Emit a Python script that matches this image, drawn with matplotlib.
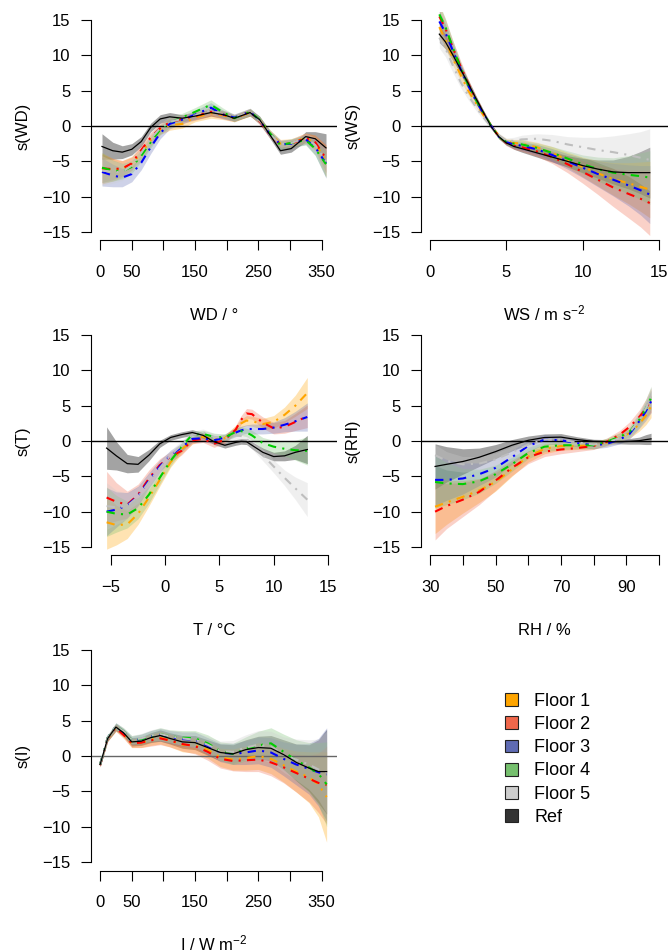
import matplotlib
matplotlib.use('Agg')
import matplotlib.pyplot as plt
from matplotlib.patches import Patch
import numpy as np

plt.rcParams['font.family'] = ['Liberation Sans', 'DejaVu Sans']
plt.rcParams['mathtext.fontset'] = 'custom'
plt.rcParams['mathtext.rm'] = 'Liberation Sans'
plt.rcParams['mathtext.it'] = 'Liberation Sans:italic'

# series order: Floor 1..5, Ref
series_names = ['Floor 1', 'Floor 2', 'Floor 3', 'Floor 4', 'Floor 5', 'Ref']
fill_colors = ['#FFA500', '#F0674B', '#5F6BB3', '#76C06E', '#CDCDCD', '#333333']
line_colors = ['#FFA500', '#FF0000', '#0000FF', '#00CD00', '#BEBEBE', '#000000']

# wind direction
wd_x = [3, 20, 35, 50, 65, 80, 95, 110, 130, 150, 175, 195, 212, 237, 252, 268, 285, 302, 325, 340, 357]
wd_fit = [
    [-6.0, -6.2, -6.1, -5.3, -3.9, -2.0, -0.5, 0.1, 0.3, 1.2, 1.8, 1.5, 1.1, 1.9, 0.8, -1.0, -2.5, -2.4, -1.7, -2.4, -5.0],
    [-6.0, -6.1, -6.0, -5.3, -3.4, -1.6, -0.3, 0.5, 1.0, 1.4, 2.0, 1.6, 1.1, 2.0, 0.7, -1.2, -2.6, -2.5, -1.7, -2.3, -4.6],
    [-6.5, -7.0, -7.3, -6.8, -5.2, -3.0, -1.0, 0.3, 0.9, 1.6, 2.6, 1.6, 1.2, 2.0, 0.8, -1.1, -2.6, -2.5, -1.9, -3.0, -5.3],
    [-5.9, -6.3, -6.4, -5.8, -4.2, -2.3, -0.5, 0.5, 1.2, 2.0, 3.0, 1.9, 1.1, 2.0, 0.9, -1.0, -2.7, -2.4, -2.0, -3.2, -5.4],
    [-6.3, -6.5, -6.5, -5.6, -3.8, -1.8, -0.3, 0.6, 1.0, 1.5, 2.2, 1.6, 1.2, 2.0, 0.8, -1.1, -2.6, -2.4, -1.7, -2.7, -5.0],
    [-2.9, -3.5, -3.7, -3.3, -2.2, -0.2, 1.0, 1.3, 1.1, 1.4, 1.9, 1.6, 1.1, 1.9, 0.9, -1.2, -3.5, -3.2, -1.5, -1.8, -3.1],
]
wd_se = [
    [2.2, 1.6, 1.2, 1.0, 0.9, 0.8, 0.7, 0.7, 0.6, 0.6, 0.7, 0.6, 0.5, 0.5, 0.5, 0.5, 0.6, 0.6, 0.7, 1.1, 2.2],
    [2.0, 1.5, 1.1, 0.9, 0.8, 0.7, 0.7, 0.6, 0.6, 0.6, 0.6, 0.6, 0.5, 0.5, 0.5, 0.5, 0.5, 0.6, 0.7, 1.0, 2.0],
    [2.0, 1.6, 1.3, 1.1, 1.0, 0.9, 0.8, 0.7, 0.6, 0.6, 0.7, 0.6, 0.5, 0.5, 0.5, 0.5, 0.6, 0.6, 0.7, 1.1, 2.1],
    [2.1, 1.5, 1.1, 0.9, 0.8, 0.8, 0.7, 0.7, 0.6, 0.6, 0.7, 0.6, 0.5, 0.5, 0.5, 0.5, 0.6, 0.6, 0.7, 1.0, 1.9],
    [2.1, 1.6, 1.2, 1.0, 0.9, 0.8, 0.7, 0.7, 0.6, 0.6, 0.6, 0.6, 0.5, 0.5, 0.5, 0.5, 0.6, 0.6, 0.7, 1.1, 2.0],
    [1.8, 1.2, 0.9, 0.8, 0.7, 0.6, 0.6, 0.6, 0.5, 0.5, 0.5, 0.5, 0.4, 0.5, 0.5, 0.5, 0.5, 0.5, 0.7, 1.0, 2.0],
]

# wind speed
ws_x = [0.6, 1.0, 1.5, 2.0, 2.5, 3.0, 3.5, 4.0, 4.5, 5.0, 5.5, 6.0, 7.0, 8.0, 9.0, 10.0, 11.0, 12.0, 13.0, 13.8, 14.4]
ws_fit = [
    [14.0, 12.2, 9.5, 7.2, 5.0, 3.2, 1.5, 0.0, -1.4, -2.2, -2.4, -2.5, -3.0, -3.8, -4.8, -5.8, -6.7, -7.5, -8.1, -8.6, -9.0],
    [15.5, 13.8, 11.0, 8.4, 6.0, 3.8, 1.8, 0.0, -1.5, -2.4, -2.8, -3.0, -3.6, -4.4, -5.4, -6.5, -7.6, -8.7, -9.6, -10.3, -10.9],
    [14.8, 13.2, 10.6, 8.0, 5.7, 3.6, 1.7, 0.0, -1.5, -2.3, -2.6, -2.8, -3.3, -4.1, -5.0, -5.9, -6.8, -7.6, -8.4, -9.1, -9.7],
    [15.8, 14.0, 11.0, 8.2, 5.8, 3.7, 1.8, 0.0, -1.5, -2.3, -2.5, -2.6, -3.1, -3.8, -4.6, -5.4, -6.1, -6.6, -6.9, -7.1, -7.3],
    [12.5, 11.0, 8.5, 6.2, 4.3, 2.7, 1.2, -0.1, -1.3, -2.1, -2.1, -1.9, -1.8, -2.1, -2.6, -3.0, -3.4, -3.7, -4.1, -4.5, -4.8],
    [13.0, 11.9, 10.0, 8.0, 6.0, 3.9, 1.9, -0.1, -1.5, -2.4, -2.9, -3.2, -3.8, -4.4, -5.0, -5.6, -6.1, -6.5, -6.6, -6.6, -6.6],
]
ws_se = [
    [1.6, 1.3, 1.0, 0.8, 0.6, 0.5, 0.4, 0.3, 0.3, 0.4, 0.5, 0.6, 0.7, 0.9, 1.1, 1.4, 1.8, 2.3, 2.9, 3.5, 4.0],
    [1.6, 1.3, 1.0, 0.8, 0.6, 0.5, 0.4, 0.3, 0.3, 0.4, 0.5, 0.6, 0.7, 0.9, 1.2, 1.6, 2.1, 2.7, 3.4, 4.0, 4.6],
    [1.5, 1.2, 1.0, 0.8, 0.6, 0.5, 0.4, 0.3, 0.3, 0.4, 0.5, 0.6, 0.7, 0.9, 1.1, 1.4, 1.8, 2.3, 2.9, 3.5, 4.1],
    [1.5, 1.2, 1.0, 0.8, 0.6, 0.5, 0.4, 0.3, 0.3, 0.4, 0.5, 0.6, 0.7, 0.9, 1.1, 1.3, 1.7, 2.1, 2.7, 3.3, 3.8],
    [1.5, 1.2, 1.0, 0.8, 0.6, 0.5, 0.4, 0.3, 0.3, 0.4, 0.5, 0.6, 0.7, 0.9, 1.1, 1.4, 1.8, 2.3, 3.0, 3.7, 4.4],
    [1.2, 1.0, 0.8, 0.6, 0.5, 0.4, 0.3, 0.3, 0.3, 0.3, 0.4, 0.5, 0.6, 0.7, 0.8, 1.0, 1.3, 1.7, 2.3, 3.0, 3.6],
]

# temperature
t_x = [-5.4, -4.5, -3.5, -2.5, -1.5, -0.5, 0.5, 1.5, 2.5, 3.5, 4.5, 5.5, 6.5, 7.0, 7.5, 8.0, 9.0, 10.0, 11.0, 12.0, 13.1]
t_fit = [
    [-11.5, -11.9, -11.8, -10.3, -8.0, -5.5, -3.0, -1.2, 0.1, 0.6, 0.2, 0.4, 1.6, 2.5, 2.9, 2.8, 2.4, 2.7, 3.7, 5.0, 6.8],
    [-8.0, -8.6, -9.0, -7.6, -5.3, -3.4, -2.2, -1.4, 0.1, 0.3, -0.4, 0.2, 1.6, 3.0, 3.9, 3.8, 2.6, 1.8, 2.0, 2.7, 3.5],
    [-10.0, -9.7, -9.1, -7.8, -5.6, -3.6, -2.0, -0.9, 0.3, 0.4, 0.1, 0.5, 1.2, 1.5, 1.7, 1.7, 1.7, 1.9, 2.3, 2.8, 3.4],
    [-10.0, -10.3, -10.4, -9.5, -7.6, -5.2, -2.8, -0.8, 0.9, 1.0, 0.6, 0.5, 1.3, 1.4, 1.2, 0.8, -0.3, -0.8, -1.1, -1.3, -1.4],
    [-9.2, -9.4, -9.2, -7.9, -5.8, -3.8, -2.0, -0.6, 0.9, 1.2, 0.6, 0.4, 0.8, 0.7, 0.3, -0.4, -2.0, -3.6, -5.2, -6.7, -8.3],
    [-1.0, -2.1, -3.2, -3.3, -2.0, -0.4, 0.5, 0.9, 1.2, 0.8, -0.1, -0.6, -0.2, -0.05, -0.1, -0.6, -1.6, -2.2, -2.1, -1.6, -1.2],
]
t_se = [
    [3.8, 2.8, 2.0, 1.5, 1.2, 0.9, 0.7, 0.6, 0.5, 0.5, 0.5, 0.5, 0.6, 0.6, 0.7, 0.7, 0.8, 0.9, 1.1, 1.5, 2.2],
    [3.7, 2.7, 1.9, 1.5, 1.2, 0.9, 0.7, 0.6, 0.5, 0.5, 0.5, 0.5, 0.6, 0.6, 0.7, 0.7, 0.8, 0.8, 0.9, 1.2, 1.6],
    [3.4, 2.5, 1.8, 1.4, 1.1, 0.9, 0.7, 0.6, 0.5, 0.5, 0.5, 0.5, 0.6, 0.6, 0.6, 0.7, 0.7, 0.8, 1.0, 1.4, 2.0],
    [3.5, 2.6, 1.9, 1.5, 1.2, 0.9, 0.7, 0.6, 0.5, 0.5, 0.5, 0.5, 0.6, 0.6, 0.6, 0.7, 0.8, 0.9, 1.0, 1.4, 2.0],
    [3.3, 2.4, 1.8, 1.4, 1.1, 0.9, 0.7, 0.6, 0.5, 0.5, 0.5, 0.5, 0.6, 0.6, 0.7, 0.7, 0.8, 0.9, 1.1, 1.6, 2.4],
    [3.0, 2.0, 1.3, 1.1, 0.8, 0.5, 0.4, 0.4, 0.4, 0.4, 0.4, 0.4, 0.4, 0.4, 0.4, 0.5, 0.6, 0.6, 0.7, 1.0, 2.0],
]

# relative humidity
rh_x = [31.5, 35, 40, 45, 50, 55, 60, 65, 70, 75, 80, 84, 88, 91, 94, 96, 97.6]
rh_fit = [
    [-9.3, -8.7, -7.9, -7.0, -5.8, -4.0, -2.2, -1.1, -0.7, -0.7, -0.6, -0.2, 0.5, 1.1, 2.4, 3.6, 4.9],
    [-10.0, -9.2, -8.3, -7.2, -5.6, -3.8, -2.3, -1.5, -1.2, -1.0, -0.7, -0.1, 0.9, 2.0, 3.4, 4.6, 5.8],
    [-5.5, -5.5, -5.3, -4.7, -3.8, -2.3, -0.7, 0.2, 0.1, -0.3, -0.6, -0.4, 0.2, 1.0, 2.8, 4.2, 5.6],
    [-5.8, -6.0, -6.1, -5.7, -4.7, -3.3, -1.7, -0.8, -0.6, -0.6, -0.6, -0.1, 0.6, 1.3, 3.0, 4.6, 6.1],
    [-2.0, -2.8, -3.3, -3.2, -2.6, -1.6, -0.5, 0.2, 0.2, -0.2, -0.5, -0.2, 0.4, 1.2, 3.0, 4.6, 6.2],
    [-3.6, -3.3, -2.9, -2.3, -1.5, -0.6, 0.1, 0.5, 0.55, 0.2, -0.05, -0.1, -0.1, -0.05, 0.05, 0.2, 0.3],
]
rh_se = [
    [3.8, 3.1, 2.3, 1.7, 1.3, 1.0, 0.8, 0.7, 0.6, 0.5, 0.5, 0.5, 0.6, 0.7, 1.0, 1.3, 1.6],
    [4.0, 3.2, 2.4, 1.8, 1.4, 1.1, 0.9, 0.7, 0.6, 0.5, 0.5, 0.5, 0.6, 0.7, 1.0, 1.3, 1.7],
    [3.6, 2.9, 2.2, 1.6, 1.3, 1.0, 0.8, 0.7, 0.6, 0.5, 0.5, 0.5, 0.6, 0.7, 1.0, 1.3, 1.6],
    [3.7, 3.0, 2.2, 1.7, 1.3, 1.0, 0.8, 0.7, 0.6, 0.5, 0.5, 0.5, 0.6, 0.7, 1.0, 1.3, 1.6],
    [1.5, 1.3, 1.1, 1.0, 0.9, 0.8, 0.7, 0.6, 0.5, 0.5, 0.5, 0.5, 0.6, 0.7, 1.0, 1.3, 1.6],
    [3.2, 2.5, 1.8, 1.3, 1.0, 0.8, 0.6, 0.5, 0.5, 0.4, 0.3, 0.3, 0.3, 0.4, 0.5, 0.7, 0.8],
]

# irradiance
i_x = [0, 12, 25, 37, 50, 65, 80, 95, 110, 130, 150, 170, 190, 210, 230, 250, 270, 290, 310, 330, 345, 358]
i_fit = [
    [-1.2, 2.5, 4.0, 3.1, 1.8, 1.9, 2.3, 2.6, 2.2, 1.6, 1.5, 0.9, -0.2, -0.5, -0.3, 0.0, -0.4, -1.3, -2.2, -3.0, -4.0, -5.8],
    [-1.3, 2.5, 4.0, 3.0, 1.8, 1.9, 2.2, 2.5, 2.2, 1.7, 1.4, 0.6, -0.4, -0.7, -0.6, -0.5, -0.9, -1.6, -2.4, -3.2, -3.8, -4.1],
    [-1.2, 2.6, 4.2, 3.4, 2.2, 2.4, 2.8, 3.0, 2.7, 2.4, 2.3, 1.4, 0.5, 0.3, 0.5, 0.8, 0.5, -0.4, -1.2, -1.8, -2.3, -2.6],
    [-1.2, 2.6, 4.2, 3.5, 2.3, 2.4, 2.8, 3.1, 2.8, 2.6, 2.5, 1.8, 0.7, 0.3, 1.0, 1.5, 1.8, 0.6, -0.6, -1.6, -2.5, -4.0],
    [-1.2, 2.6, 4.2, 3.5, 2.3, 2.5, 2.9, 3.1, 2.8, 2.5, 2.3, 1.6, 0.7, 0.6, 1.2, 1.6, 1.3, 0.2, -0.5, -1.2, -1.9, -2.3],
    [-1.2, 2.5, 4.1, 3.3, 2.0, 2.1, 2.6, 2.9, 2.5, 2.0, 1.9, 1.2, 0.5, 0.3, 0.9, 1.2, 1.1, 0.2, -0.9, -1.7, -2.2, -2.2],
]
i_se = [
    [0.3, 0.4, 0.5, 0.5, 0.6, 0.7, 0.8, 0.9, 0.9, 1.0, 1.1, 1.2, 1.3, 1.5, 1.7, 1.9, 2.1, 2.4, 2.9, 3.6, 4.6, 6.4],
    [0.3, 0.4, 0.5, 0.5, 0.6, 0.7, 0.8, 0.9, 0.9, 1.0, 1.1, 1.2, 1.3, 1.4, 1.6, 1.7, 1.9, 2.2, 2.7, 3.3, 4.2, 5.5],
    [0.3, 0.4, 0.5, 0.5, 0.6, 0.7, 0.8, 0.9, 0.9, 1.0, 1.1, 1.2, 1.3, 1.5, 1.7, 1.9, 2.1, 2.4, 2.9, 3.6, 4.8, 6.6],
    [0.3, 0.4, 0.5, 0.5, 0.6, 0.7, 0.8, 0.9, 0.9, 1.0, 1.1, 1.2, 1.3, 1.5, 1.7, 2.0, 2.2, 2.5, 2.9, 3.5, 4.4, 6.0],
    [0.3, 0.4, 0.5, 0.5, 0.6, 0.7, 0.8, 0.9, 0.9, 1.0, 1.1, 1.2, 1.4, 1.6, 1.8, 2.0, 2.2, 2.5, 2.9, 3.5, 4.3, 5.8],
    [0.3, 0.4, 0.5, 0.5, 0.6, 0.6, 0.7, 0.8, 0.8, 0.9, 1.0, 1.1, 1.2, 1.3, 1.4, 1.6, 1.8, 2.1, 2.6, 3.3, 4.5, 6.0],
]

y_ticks = [-15, -10, -5, 0, 5, 10, 15]


def draw_panel(ax, x, fits, ses, xlim, xticks, xticklabels, xlabel, ylabel, zero_color='black'):
    x = np.array(x)
    # confidence bands: reference underneath, floors on top
    for i in [5, 0, 1, 2, 3, 4]:
        fit = np.array(fits[i])
        se = np.array(ses[i])
        alpha = 0.45 if i == 5 else 0.3
        ax.fill_between(x, fit - se, fit + se, color=fill_colors[i], alpha=alpha, lw=0, zorder=1)
    ax.axhline(0, color=zero_color, lw=1.0, zorder=2)
    for i in range(5):
        ax.plot(x, fits[i], color=line_colors[i], lw=1.5, dashes=(4, 3, 1, 3), zorder=3)
    ax.plot(x, fits[5], color='black', lw=0.9, zorder=4)

    # R style axes
    pad = 0.04 * (xlim[1] - xlim[0])
    ax.set_xlim(xlim[0] - pad, xlim[1] + pad)
    ax.set_ylim(-16.2, 16.2)
    for s in ['top', 'right']:
        ax.spines[s].set_visible(False)
    ax.spines['left'].set_bounds(-15, 15)
    ax.spines['bottom'].set_bounds(xticks[0], xticks[-1])
    ax.spines['left'].set_linewidth(0.8)
    ax.spines['bottom'].set_linewidth(0.8)
    ax.set_xticks(xticks)
    ax.set_xticklabels(xticklabels)
    ax.set_yticks(y_ticks)
    ax.set_yticklabels(['\u221215', '\u221210', '\u22125', '0', '5', '10', '15'])
    ax.tick_params(axis='both', direction='out', length=7.2, width=0.8, labelsize=12)
    ax.tick_params(axis='x', pad=10.5)
    ax.tick_params(axis='y', pad=7.5)
    ax.set_xlabel(xlabel, fontsize=12, va='baseline')
    ax.xaxis.set_label_coords(0.5, -0.347)
    ax.set_ylabel(ylabel, fontsize=12, va='center')
    ax.yaxis.set_label_coords(-0.275, 0.5)


def main():
    fig = plt.figure(figsize=(6.7, 9.52), dpi=100)

    left_col = [0.1358, 0.3672]
    right_col = [0.6284, 0.3687]
    rows = [0.7474, 0.4165, 0.0856]
    h = 0.2405

    deg_ticks = [0, 50, 100, 150, 200, 250, 300, 350]
    deg_labels = ['0', '50', '', '150', '', '250', '', '350']

    ax1 = fig.add_axes([left_col[0], rows[0], left_col[1], h])
    draw_panel(ax1, wd_x, wd_fit, wd_se, (0, 360), deg_ticks, deg_labels, 'WD / \u00b0', 's(WD)')

    ax2 = fig.add_axes([right_col[0], rows[0], right_col[1], h])
    draw_panel(ax2, ws_x, ws_fit, ws_se, (0, 15), [0, 5, 10, 15], ['0', '5', '10', '15'],
               r'WS / m s$^{\mathregular{-2}}$', 's(WS)')

    ax3 = fig.add_axes([left_col[0], rows[1], left_col[1], h])
    draw_panel(ax3, t_x, t_fit, t_se, (-6, 15), [-5, 0, 5, 10, 15],
               ['\u22125', '0', '5', '10', '15'], 'T / \u00b0C', 's(T)')

    ax4 = fig.add_axes([right_col[0], rows[1], right_col[1], h])
    draw_panel(ax4, rh_x, rh_fit, rh_se, (30, 100), [30, 40, 50, 60, 70, 80, 90, 100],
               ['30', '', '50', '', '70', '', '90', ''], 'RH / %', 's(RH)')

    ax5 = fig.add_axes([left_col[0], rows[2], left_col[1], h])
    draw_panel(ax5, i_x, i_fit, i_se, (0, 360), deg_ticks, deg_labels,
               r'I / W m$^{\mathregular{-2}}$', 's(I)', zero_color='#666666')

    handles = [Patch(facecolor=c, edgecolor='#222222', lw=0.8) for c in fill_colors]
    fig.legend(handles, series_names, loc='upper left', bbox_to_anchor=(505 / 670, 1 - 693 / 952),
               frameon=False, fontsize=13, handlelength=0.72, handleheight=0.72,
               handletextpad=0.9, labelspacing=0.34, borderpad=0, borderaxespad=0)

    fig.savefig('out.png', dpi=100, facecolor='white')


if __name__ == "__main__":
    main()
